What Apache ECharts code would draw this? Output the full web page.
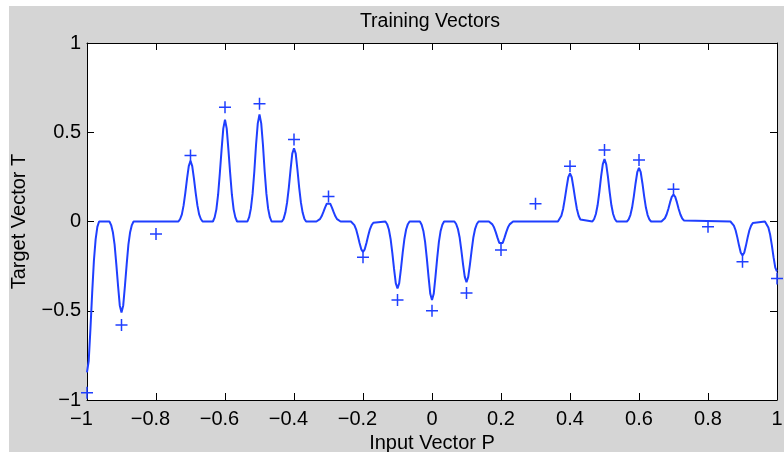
<!DOCTYPE html>
<html>
<head>
<meta charset="utf-8">
<script src="https://cdn.jsdelivr.net/npm/echarts@6/dist/echarts.min.js"></script>
<style>
  html, body { margin: 0; padding: 0; background: #fff; }
  #chart { width: 784px; height: 452px; }
</style>
</head>
<body>
<div id="chart"></div>
<script>
// Training vectors (the "+" markers)
const targetP = [-1, -0.9, -0.8, -0.7, -0.6, -0.5, -0.4, -0.3, -0.2, -0.1, 0, 0.1, 0.2, 0.3, 0.4, 0.5, 0.6, 0.7, 0.8, 0.9, 1];
const targetT = [-0.96, -0.58, -0.07, 0.37, 0.64, 0.66, 0.46, 0.14, -0.20, -0.44, -0.50, -0.40, -0.16, 0.10, 0.31, 0.40, 0.345, 0.18, -0.03, -0.225, -0.32];

// Network output curve as [P, T] points
const curvePoints = [
  [-1, -0.845], [-0.995, -0.78], [-0.99, -0.60], [-0.985, -0.40], [-0.98, -0.22], [-0.975, -0.10], [-0.97, -0.03], [-0.965, 0],
  [-0.935, 0], [-0.93, -0.02], [-0.925, -0.06], [-0.92, -0.13], [-0.915, -0.24], [-0.91, -0.36], [-0.905, -0.47], [-0.9, -0.51], [-0.895, -0.47], [-0.89, -0.36], [-0.885, -0.24], [-0.88, -0.13], [-0.875, -0.06], [-0.87, -0.02], [-0.865, 0],
  [-0.735, 0], [-0.73, 0.014], [-0.725, 0.04], [-0.72, 0.09], [-0.715, 0.16], [-0.71, 0.24], [-0.705, 0.31], [-0.7, 0.34], [-0.695, 0.31], [-0.69, 0.24], [-0.685, 0.16], [-0.68, 0.09], [-0.675, 0.04], [-0.67, 0.014], [-0.665, 0],
  [-0.635, 0], [-0.63, 0.023], [-0.625, 0.068], [-0.62, 0.15], [-0.615, 0.27], [-0.61, 0.40], [-0.605, 0.52], [-0.6, 0.57], [-0.595, 0.52], [-0.59, 0.40], [-0.585, 0.27], [-0.58, 0.15], [-0.575, 0.068], [-0.57, 0.023], [-0.565, 0],
  [-0.535, 0], [-0.53, 0.024], [-0.525, 0.072], [-0.52, 0.156], [-0.515, 0.28], [-0.51, 0.43], [-0.505, 0.55], [-0.5, 0.60], [-0.495, 0.55], [-0.49, 0.43], [-0.485, 0.28], [-0.48, 0.156], [-0.475, 0.072], [-0.47, 0.024], [-0.465, 0],
  [-0.435, 0], [-0.43, 0.016], [-0.425, 0.05], [-0.42, 0.107], [-0.415, 0.19], [-0.41, 0.29], [-0.405, 0.38], [-0.4, 0.41], [-0.395, 0.38], [-0.39, 0.29], [-0.385, 0.19], [-0.38, 0.107], [-0.375, 0.05], [-0.37, 0.016], [-0.365, 0],
  [-0.335, 0], [-0.33, 0.004], [-0.325, 0.013], [-0.32, 0.029], [-0.315, 0.052], [-0.31, 0.078], [-0.305, 0.10], [-0.3, 0.11], [-0.295, 0.10], [-0.29, 0.078], [-0.285, 0.052], [-0.28, 0.029], [-0.275, 0.013], [-0.27, 0.004], [-0.265, 0],
  [-0.235, 0], [-0.23, -0.007], [-0.225, -0.02], [-0.22, -0.044], [-0.215, -0.08], [-0.21, -0.12], [-0.205, -0.156], [-0.2, -0.17], [-0.195, -0.156], [-0.19, -0.12], [-0.185, -0.08], [-0.18, -0.044], [-0.175, -0.02], [-0.17, -0.007], [-0.165, 0],
  [-0.135, 0], [-0.13, -0.015], [-0.125, -0.045], [-0.12, -0.098], [-0.115, -0.176], [-0.11, -0.266], [-0.105, -0.345], [-0.1, -0.375], [-0.095, -0.345], [-0.09, -0.266], [-0.085, -0.176], [-0.08, -0.098], [-0.075, -0.045], [-0.07, -0.015], [-0.065, 0],
  [-0.035, 0], [-0.03, -0.018], [-0.025, -0.053], [-0.02, -0.114], [-0.015, -0.207], [-0.01, -0.31], [-0.005, -0.405], [0, -0.44], [0.005, -0.405], [0.01, -0.31], [0.015, -0.207], [0.02, -0.114], [0.025, -0.053], [0.03, -0.018], [0.035, 0],
  [0.065, 0], [0.07, -0.014], [0.075, -0.041], [0.08, -0.088], [0.085, -0.16], [0.09, -0.24], [0.095, -0.31], [0.1, -0.34], [0.105, -0.31], [0.11, -0.24], [0.115, -0.16], [0.12, -0.088], [0.125, -0.041], [0.13, -0.014], [0.135, 0],
  [0.165, 0], [0.17, -0.005], [0.175, -0.016], [0.18, -0.034], [0.185, -0.061], [0.19, -0.092], [0.195, -0.12], [0.2, -0.13], [0.205, -0.12], [0.21, -0.092], [0.215, -0.061], [0.22, -0.034], [0.225, -0.016], [0.23, -0.005], [0.235, 0],
  [0.365, 0], [0.37, 0.011], [0.375, 0.032], [0.38, 0.07], [0.385, 0.127], [0.39, 0.19], [0.395, 0.248], [0.4, 0.27], [0.405, 0.248], [0.41, 0.19], [0.415, 0.127], [0.42, 0.07], [0.425, 0.032], [0.43, 0.011], [0.435, 0],
  [0.465, 0], [0.47, 0.014], [0.475, 0.042], [0.48, 0.091], [0.485, 0.165], [0.49, 0.25], [0.495, 0.32], [0.5, 0.35], [0.505, 0.32], [0.51, 0.25], [0.515, 0.165], [0.52, 0.091], [0.525, 0.042], [0.53, 0.014], [0.535, 0],
  [0.565, 0], [0.57, 0.012], [0.575, 0.036], [0.58, 0.078], [0.585, 0.141], [0.59, 0.213], [0.595, 0.276], [0.6, 0.30], [0.605, 0.276], [0.61, 0.213], [0.615, 0.141], [0.62, 0.078], [0.625, 0.036], [0.63, 0.012], [0.635, 0],
  [0.665, 0], [0.67, 0.006], [0.675, 0.018], [0.68, 0.039], [0.685, 0.07], [0.69, 0.107], [0.695, 0.138], [0.7, 0.15], [0.705, 0.138], [0.71, 0.107], [0.715, 0.07], [0.72, 0.039], [0.725, 0.018], [0.73, 0.006], [0.735, 0],
  [0.865, 0], [0.87, -0.008], [0.875, -0.023], [0.88, -0.049], [0.885, -0.089], [0.89, -0.135], [0.895, -0.175], [0.9, -0.19], [0.905, -0.175], [0.91, -0.135], [0.915, -0.089], [0.92, -0.049], [0.925, -0.023], [0.93, -0.008], [0.935, 0],
  [0.965, 0], [0.97, -0.011], [0.975, -0.034], [0.98, -0.073], [0.985, -0.132], [0.99, -0.20], [0.995, -0.258], [1, -0.28]
];

const xTickLabels = ['\u22121', '\u22120.8', '\u22120.6', '\u22120.4', '\u22120.2', '0', '0.2', '0.4', '0.6', '0.8', '1'];
const yTickLabels = ['\u22121', '\u22120.5', '0', '0.5', '1'];

const FONT = 'Liberation Sans, Arial, Helvetica, sans-serif';
const BLUE = '#1f3fff';
const plusPath = 'path://M0,5.25H12V6.75H0Z M5.25,0H6.75V12H5.25Z';

const chart = echarts.init(document.getElementById('chart'), null, { renderer: 'canvas' });

const baseAxisLine = { show: true, onZero: false, lineStyle: { color: '#000', width: 1 } };
const baseTick = { show: true, inside: true, length: 7, lineStyle: { color: '#000', width: 1 } };

chart.setOption({
  animation: false,
  backgroundColor: '#d5d5d5',
  graphic: [
    { type: 'rect', shape: { x: 0, y: 0, width: 9, height: 452 }, style: { fill: '#ffffff' }, silent: true },
    { type: 'rect', shape: { x: 0, y: 0, width: 784, height: 6 }, style: { fill: '#ffffff' }, silent: true }
  ],
  title: {
    text: 'Training Vectors',
    left: 430,
    top: 12,
    padding: 0,
    textAlign: 'center',
    textStyle: { fontFamily: FONT, fontSize: 19.5, fontWeight: 'normal', color: '#000' }
  },
  grid: {
    left: 87, right: 7, top: 43, bottom: 52,
    outerBoundsMode: 'none', containLabel: false,
    show: true, backgroundColor: '#ffffff', borderWidth: 0
  },
  xAxis: [
    {
      type: 'value', position: 'bottom', min: -1, max: 1, interval: 0.2,
      name: 'Input Vector P', nameLocation: 'middle', nameGap: 32,
      nameTextStyle: { fontFamily: FONT, fontSize: 20, color: '#000' },
      axisLine: baseAxisLine, axisTick: baseTick, splitLine: { show: false },
      axisLabel: {
        margin: 9, fontFamily: FONT, fontSize: 20, color: '#000',
        formatter: (v, i) => {
          const s = xTickLabels[i];
          return s.charAt(0) === '\u2212' ? '{neg|' + s + '}' : s;
        },
        rich: { neg: { fontFamily: FONT, fontSize: 20, color: '#000', padding: [0, 11, 0, 0] } }
      }
    },
    {
      type: 'value', position: 'top', min: -1, max: 1, interval: 0.2,
      axisLine: baseAxisLine, axisTick: baseTick, splitLine: { show: false },
      axisLabel: { show: false }
    }
  ],
  yAxis: [
    {
      type: 'value', position: 'left', min: -1, max: 1, interval: 0.5,
      name: 'Target Vector T', nameLocation: 'middle', nameGap: 58, nameRotate: 90,
      nameTextStyle: { fontFamily: FONT, fontSize: 20, color: '#000' },
      axisLine: baseAxisLine, axisTick: baseTick, splitLine: { show: false },
      axisLabel: {
        margin: 6, fontFamily: FONT, fontSize: 20, color: '#000',
        formatter: (v, i) => yTickLabels[i]
      }
    },
    {
      type: 'value', position: 'right', min: -1, max: 1, interval: 0.5,
      axisLine: baseAxisLine, axisTick: baseTick, splitLine: { show: false },
      axisLabel: { show: false }
    }
  ],
  series: [
    {
      type: 'line',
      xAxisIndex: 0, yAxisIndex: 0,
      data: curvePoints,
      showSymbol: false,
      symbol: 'none',
      smooth: false,
      lineStyle: { color: BLUE, width: 2 },
      z: 2
    },
    {
      type: 'scatter',
      xAxisIndex: 0, yAxisIndex: 0,
      data: targetP.map((p, i) => [p, targetT[i]]),
      symbol: plusPath,
      symbolSize: 12,
      itemStyle: { color: BLUE, opacity: 1 },
      z: 3
    }
  ]
});
</script>
</body>
</html>
